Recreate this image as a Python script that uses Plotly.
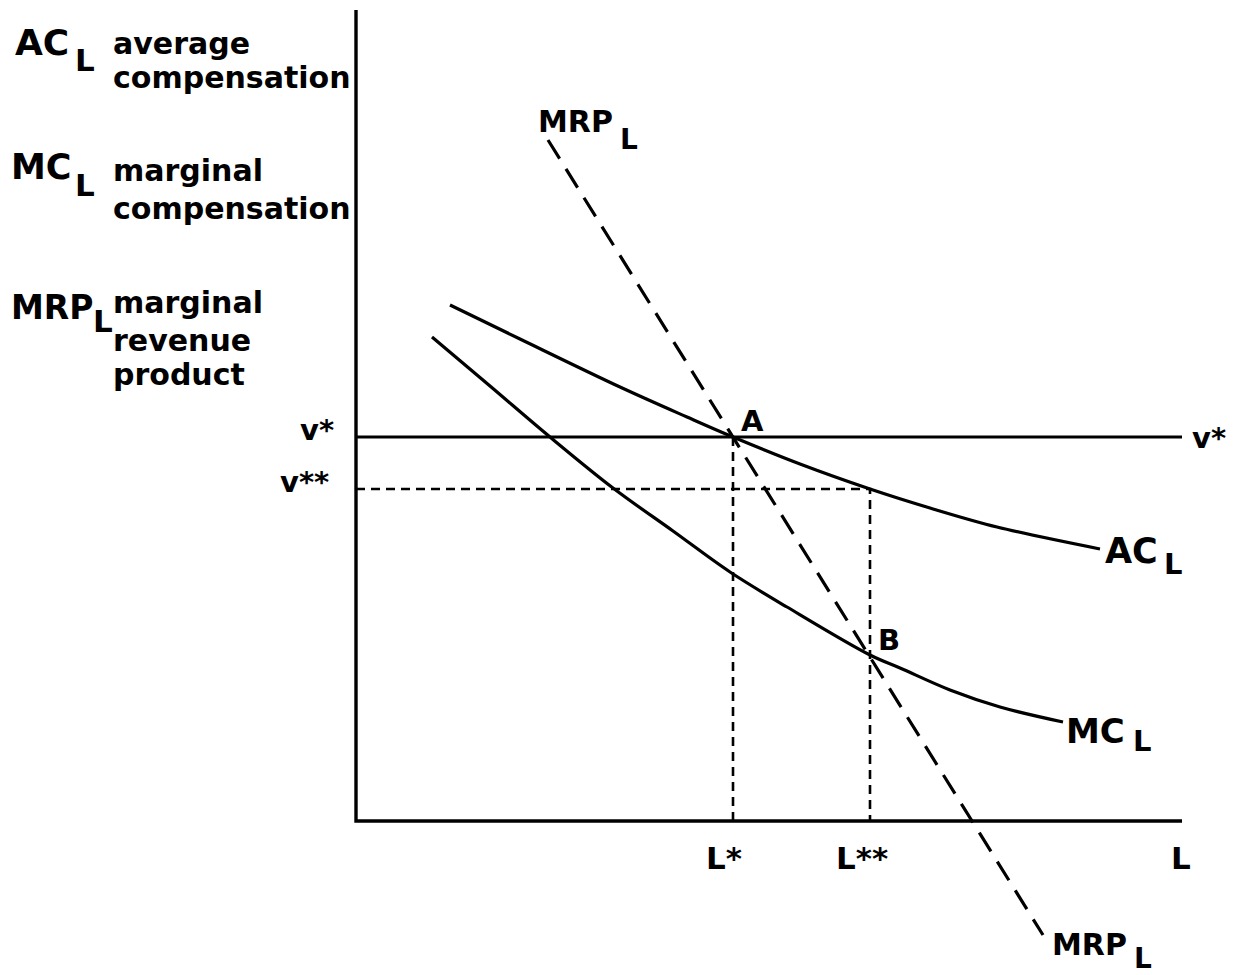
import plotly.graph_objects as go

# ---- data (origin at the axes corner; L = labour, v = compensation) ----
axis_L_end = 826
axis_v_top = 811
v_star = 384
v_2star = 332
L_star = 377
L_2star = 514
vstar_line_end = 826

ac_L = [94, 164, 264, 331, 377, 444, 514, 574, 641, 744]
ac_v = [516, 482, 434, 404, 384, 357, 332, 313, 294, 272]

mc_L = [76, 134, 194, 257, 317, 374, 431, 514, 544, 594, 644, 707]
mc_v = [484, 435, 384, 333, 290, 249, 214, 166, 153, 131, 114, 99]

mrp_L = [192, 687]
mrp_v = [681, -114]

# ---- figure geometry ----
X0, Y0 = 356, 821      # canvas pixel position of the diagram origin
PAGE = 8               # default body margin of the html page
W, H = 1244, 975


def px(xp):
    return xp - X0


def py(yp):
    return Y0 - yp


BLACK = "black"
FONT = "DejaVu Sans"
LW = 3.2

fig = go.Figure()

# axes
fig.add_trace(go.Scatter(x=[0, 0, axis_L_end], y=[axis_v_top, 0, 0], mode="lines",
                         line=dict(color=BLACK, width=3.4)))
# v* line
fig.add_trace(go.Scatter(x=[0, vstar_line_end], y=[v_star, v_star], mode="lines",
                         line=dict(color=BLACK, width=2.8)))
# dotted guides
fig.add_trace(go.Scatter(x=[0, L_2star, L_2star], y=[v_2star, v_2star, 0], mode="lines",
                         line=dict(color=BLACK, width=2.6, dash="9px,6px")))
fig.add_trace(go.Scatter(x=[L_star, L_star], y=[v_star, 0], mode="lines",
                         line=dict(color=BLACK, width=2.6, dash="9px,6px")))
# AC and MC curves
fig.add_trace(go.Scatter(x=ac_L, y=ac_v, mode="lines",
                         line=dict(color=BLACK, width=LW, shape="spline", smoothing=1)))
fig.add_trace(go.Scatter(x=mc_L, y=mc_v, mode="lines",
                         line=dict(color=BLACK, width=LW, shape="spline", smoothing=1)))
# MRP dashed
fig.add_trace(go.Scatter(x=mrp_L, y=mrp_v, mode="lines",
                         line=dict(color=BLACK, width=LW, dash="22px,12px")))

ann = []


def label(text, xp, yp, size, xanchor="left"):
    ann.append(dict(x=px(xp), y=py(yp), xref="x", yref="y", text=text, showarrow=False,
                    xanchor=xanchor, yanchor="middle",
                    font=dict(family=FONT, size=size, color=BLACK, weight="bold")))


def sublabel(main, xp, yp, size, sx, sy, ssize):
    label(main, xp, yp, size)
    label("L", sx, sy, ssize)


# top-left description block
sublabel("AC", 13, 42, 36, 73, 60, 31)
label("average", 111, 43, 30)
label("compensation", 111, 77, 30)
sublabel("MC", 9, 167, 35, 73, 185, 31)
label("marginal", 111, 170, 30)
label("compensation", 111, 208, 30)
sublabel("MRP", 9, 307, 33, 91, 321, 31)
label("marginal", 111, 302, 30)
label("revenue", 111, 340, 30)
label("product", 111, 374, 30)

# in-plot labels
sublabel("MRP", 536, 121, 30, 618, 139, 28)
sublabel("MRP", 1050, 944, 30, 1132, 958, 28)
sublabel("AC", 1103, 551, 35, 1162, 564, 29)
sublabel("MC", 1064, 731, 34, 1131, 741, 29)
label("v*", 1190, 438, 29)
label("v*", 298, 430, 29)
label("v**", 278, 482, 29)
label("A", 739, 421, 29)
label("B", 876, 640, 29)
label("L*", 704, 858, 31)
label("L**", 834, 858, 31)
label("L", 1169, 858, 31)

fig.update_layout(
    width=W - PAGE, height=H - PAGE,
    margin=dict(l=0, r=0, t=0, b=0),
    paper_bgcolor="white", plot_bgcolor="white",
    showlegend=False,
    annotations=ann,
    xaxis=dict(range=[px(PAGE), px(W)], visible=False, fixedrange=True),
    yaxis=dict(range=[py(H), py(PAGE)], visible=False, fixedrange=True),
)

fig.write_html("out.html")
